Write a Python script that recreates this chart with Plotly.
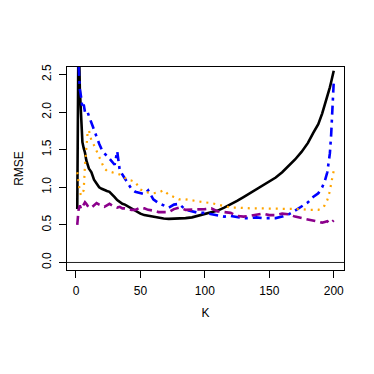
import plotly.graph_objects as go

K = [1, 2, 3, 4, 5, 6, 7, 8, 9, 10, 12, 14, 16, 18, 20, 22, 24, 26, 28, 30, 32, 34, 36, 38, 40,
     43, 46, 50, 53, 56, 60, 64, 68, 72, 76, 80, 85, 90, 95, 100, 105, 110, 115, 120, 125, 130,
     135, 140, 145, 150, 155, 160, 165, 170, 175, 180, 184, 188, 191, 193, 195, 196, 197, 198, 199, 200]

rmse_black = [0.71, 3.2, 2.3, 1.85, 1.6, 1.52, 1.46, 1.36, 1.30, 1.25, 1.20, 1.10, 1.05, 1.00, 0.98,
              0.96, 0.95, 0.94, 0.91, 0.87, 0.83, 0.80, 0.78, 0.77, 0.75, 0.71, 0.68, 0.65, 0.63, 0.62,
              0.61, 0.59, 0.585, 0.58, 0.58, 0.585, 0.59, 0.60, 0.62, 0.64, 0.66, 0.69, 0.73, 0.77, 0.82,
              0.87, 0.92, 0.97, 1.02, 1.07, 1.13, 1.20, 1.28, 1.37, 1.47, 1.59, 1.72, 1.84, 1.98, 2.09,
              2.19, 2.26, 2.33, 2.40, 2.47, 2.55]

rmse_blue = [3.0, 2.6, 2.3, 2.2, 2.05, 2.1, 2.0, 1.98, 2.0, 1.95, 1.85, 1.78, 1.68, 1.58, 1.50,
             1.45, 1.42, 1.38, 1.35, 1.30, 1.48, 1.22, 1.17, 1.12, 1.06, 0.98, 0.94, 0.92, 0.91, 0.96,
             0.84, 0.79, 0.76, 0.73, 0.77, 0.78, 0.70, 0.68, 0.66, 0.66, 0.64, 0.62, 0.61, 0.62, 0.60,
             0.59, 0.59, 0.60, 0.59, 0.59, 0.59, 0.61, 0.64, 0.69, 0.75, 0.80, 0.87, 0.92, 1.00, 1.08,
             1.20, 1.30, 1.45, 1.70, 2.00, 2.40]

rmse_orange = [1.20, 1.06, 0.94, 0.89, 0.92, 0.96, 1.30, 1.55, 1.72, 1.76, 1.62, 1.56, 1.48, 1.40, 1.33,
               1.25, 1.22, 1.21, 1.20, 1.20, 1.18, 1.17, 1.15, 1.13, 1.10, 1.09, 1.07, 0.97, 0.95, 0.93,
               0.92, 0.93, 0.96, 0.90, 0.87, 0.84, 0.84, 0.83, 0.82, 0.80, 0.79, 0.77, 0.75, 0.73, 0.73,
               0.72, 0.72, 0.72, 0.72, 0.72, 0.72, 0.71, 0.71, 0.71, 0.71, 0.70, 0.70, 0.70, 0.72, 0.76,
               0.83, 0.88, 0.95, 1.05, 1.15, 1.22]

rmse_purple = [0.50, 0.70, 0.76, 0.71, 0.74, 0.78, 0.80, 0.78, 0.75, 0.73, 0.73, 0.76, 0.79, 0.77, 0.75,
               0.74, 0.76, 0.78, 0.76, 0.74, 0.73, 0.74, 0.72, 0.72, 0.71, 0.70, 0.70, 0.73, 0.72, 0.70,
               0.69, 0.67, 0.67, 0.67, 0.71, 0.73, 0.70, 0.70, 0.70, 0.71, 0.72, 0.68, 0.67, 0.66, 0.62,
               0.61, 0.62, 0.64, 0.65, 0.63, 0.63, 0.65, 0.64, 0.61, 0.59, 0.57, 0.55, 0.54, 0.53, 0.54,
               0.55, 0.53, 0.52, 0.53, 0.55, 0.56]

x_ticks = [0, 50, 100, 150, 200]
y_ticks = [0.0, 0.5, 1.0, 1.5, 2.0, 2.5]
y_tick_text = ["0.0", "0.5", "1.0", "1.5", "2.0", "2.5"]

FONT = "Liberation Sans, Arial, Helvetica, sans-serif"

fig = go.Figure()
fig.add_trace(go.Scatter(x=K, y=rmse_black, mode="lines",
                         line=dict(color="black", width=2.6), showlegend=False))
fig.add_trace(go.Scatter(x=K, y=rmse_blue, mode="lines",
                         line=dict(color="#0000FF", width=2.6, dash="3px,5px,9px,5px"), showlegend=False))
fig.add_trace(go.Scatter(x=K, y=rmse_orange, mode="lines",
                         line=dict(color="#FFA500", width=2.2, dash="2px,5px"), showlegend=False))
fig.add_trace(go.Scatter(x=K, y=rmse_purple, mode="lines",
                         line=dict(color="#8B008B", width=2.6, dash="9px,5px"), showlegend=False))

fig.add_shape(type="line", xref="paper", x0=0, x1=1, yref="y", y0=0, y1=0,
              line=dict(color="#222222", width=1))

fig.update_layout(
    width=366, height=366,
    margin=dict(l=59, r=30, t=59, b=104),
    paper_bgcolor="white", plot_bgcolor="white",
    font=dict(family=FONT, size=12, color="black"),
    xaxis=dict(range=[-6.96, 207.96], tickvals=x_ticks, ticks="outside", ticklen=7,
               tickcolor="black", showgrid=False, zeroline=False, showline=True,
               linecolor="black", linewidth=1, mirror=True, ticklabelstandoff=3,
               title=dict(text="K", standoff=11, font=dict(size=12)),
               tickfont=dict(size=12), automargin=False),
    yaxis=dict(range=[-0.1, 2.6], tickvals=y_ticks, ticktext=y_tick_text, ticks="outside",
               ticklen=7, tickcolor="black", tickangle=-90, showgrid=False, zeroline=False,
               showline=True, linecolor="black", linewidth=1, mirror=True, ticklabelstandoff=3,
               title=dict(text="RMSE", standoff=14, font=dict(size=12)),
               tickfont=dict(size=12), automargin=False),
)

fig.write_html("out.html")
